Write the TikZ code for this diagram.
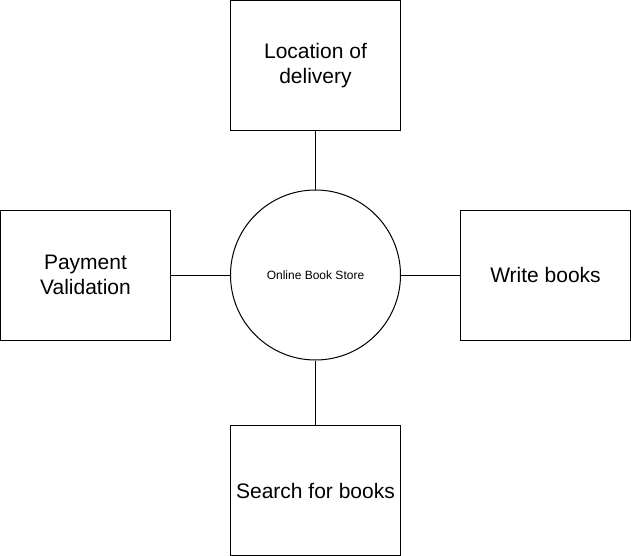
\documentclass[tikz,border=0pt]{standalone}
\usepackage{fontspec}
\setmainfont{Liberation Sans}
\usetikzlibrary{calc}

\begin{document}
\begin{tikzpicture}[x=0.75pt,y=-0.75pt,
        %Option for the boxes and the hub%
        line width=0.75pt,%
        task box/.style={draw, rectangle, minimum width=127.5pt,
            minimum height=97.5pt, align=center,
            font=\fontsize{15.75}{18.75}\selectfont},%
        store hub/.style={draw, circle, minimum size=127.5pt,
            inner sep=0pt, font=\fontsize{9}{11}\selectfont}%
    ]
    %% canvas
    \useasboundingbox (0,0) rectangle (631,556);
    %
    \node[store hub] (store) at (315.5,275) {Online Book Store};
    % boxes round the store
    \node[task box] (delivery) at (315.5,65.25)  {Location of\\delivery};
    \node[task box] (payment)  at (85.5,275)     {Payment\\Validation};
    \node[task box] (write)    at (545.5,275)    {Write books};
    \node[task box] (search)   at (315.5,490.5)  {Search for books};
    %
    \draw (delivery) -- (store);
    \draw (payment)  -- (store);
    \draw (write)    -- (store);
    \draw (search)   -- (store);
\end{tikzpicture}
\end{document}
